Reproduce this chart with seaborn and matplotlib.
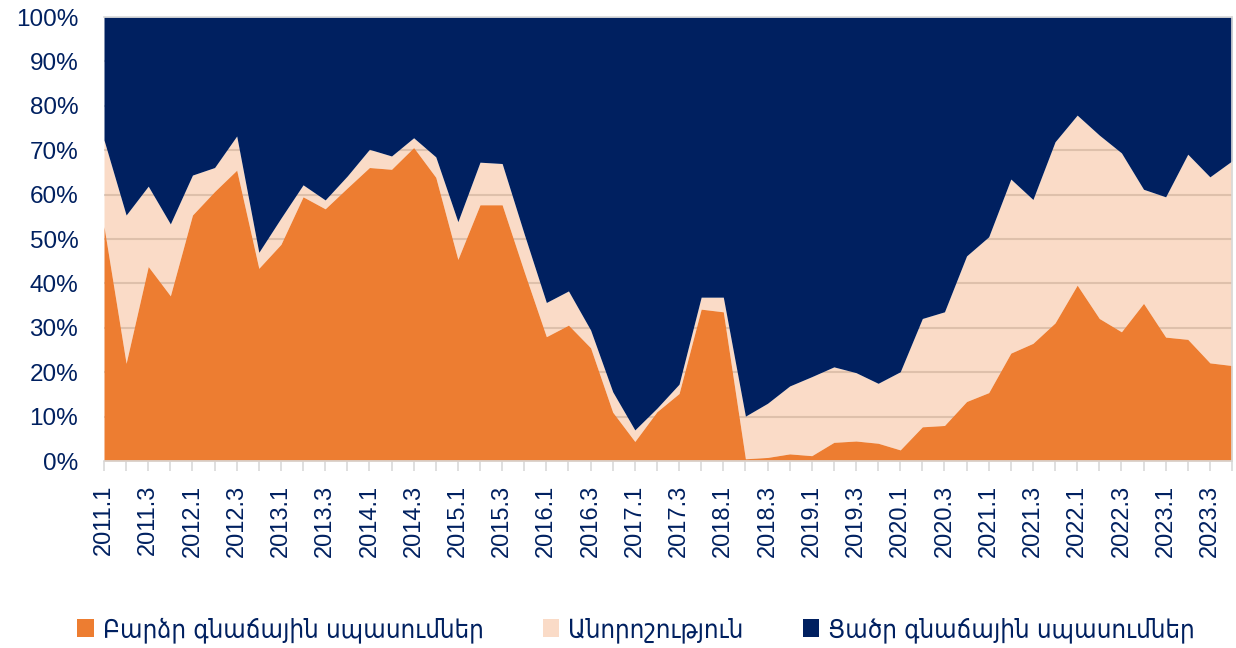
import matplotlib
matplotlib.use("Agg")
import matplotlib.pyplot as plt
from matplotlib.font_manager import FontProperties
import seaborn as sns

# ---------------- data ----------------
years = list(range(2011, 2024))
quarters = [f"{y}.{q}" for y in years for q in (1, 2, 3, 4)]

high = [52.8, 22.0, 43.8, 37.2, 55.4, 60.7, 65.5, 43.4, 48.8, 59.5,
        56.8, 61.5, 66.1, 65.7, 70.6, 63.9, 45.4, 57.7, 57.7, 42.6,
        28.0, 30.6, 25.5, 11.0, 4.4, 11.1, 15.2, 34.2, 33.6, 0.5,
        0.8, 1.6, 1.2, 4.2, 4.5, 4.0, 2.5, 7.7, 8.0, 13.4,
        15.4, 24.3, 26.5, 31.1, 39.6, 32.1, 29.1, 35.5, 27.9, 27.4,
        22.1, 21.5]
uncertain = [19.5, 33.4, 18.1, 16.2, 9.0, 5.4, 7.7, 3.6, 5.9, 2.7,
             2.0, 2.7, 4.1, 3.0, 2.2, 4.6, 8.5, 9.6, 9.3, 8.5,
             7.7, 7.7, 4.0, 4.6, 2.6, 0.8, 2.1, 2.7, 3.3, 9.6,
             12.2, 15.3, 17.8, 17.0, 15.4, 13.5, 17.6, 24.4, 25.6, 32.8,
             35.1, 39.2, 32.4, 40.8, 38.3, 41.3, 40.3, 25.7, 31.6, 41.7,
             41.9, 46.1]
low = [27.7, 44.6, 38.1, 46.6, 35.6, 33.9, 26.8, 53.0, 45.3, 37.8,
       41.2, 35.8, 29.8, 31.3, 27.2, 31.5, 46.1, 32.7, 33.0, 48.9,
       64.3, 61.7, 70.5, 84.4, 93.0, 88.1, 82.7, 63.1, 63.1, 89.9,
       87.0, 83.1, 81.0, 78.8, 80.1, 82.5, 79.9, 67.9, 66.4, 53.8,
       49.5, 36.5, 41.1, 28.1, 22.1, 26.6, 30.6, 38.8, 40.5, 30.9,
       36.0, 32.4]

series_names = ["Բարձր գնաճային սպասումներ", "Անորոշություն", "Ցածր գնաճային սպասումներ"]
y_ticks = [0, 10, 20, 30, 40, 50, 60, 70, 80, 90, 100]
y_tick_labels = [f"{v}%" for v in y_ticks]

# ---------------- style ----------------
sns.set_theme(style="white")
plt.rcParams["font.family"] = ["Liberation Sans", "DejaVu Sans"]

navy = "#002060"
orange = "#ED7D31"
peach = (237/255, 125/255, 49/255, 0.27)
grid_c = "#D9D9D9"

fig = plt.figure(figsize=(12.36, 6.48), dpi=100)
ax = fig.add_axes([104/1236, 1-461/648, 1128/1236, 444/648])

x = list(range(len(quarters)))
ax.stackplot(x, high, uncertain, low, colors=[orange, peach, navy],
             labels=series_names, linewidth=0)

ax.set_xlim(0, len(quarters) - 1)
ax.set_ylim(0, 100)
ax.set_axisbelow(True)
ax.grid(axis="y", color=grid_c, linewidth=1.5)
ax.grid(axis="x", visible=False)

ax.set_yticks(y_ticks)
ax.set_yticklabels(y_tick_labels)
ax.set_xticks(x)
ax.set_xticklabels([q if i % 2 == 0 else "" for i, q in enumerate(quarters)], rotation=90)

ax.tick_params(axis="y", length=0, pad=18.5, labelsize=17.5, labelcolor=navy)
ax.tick_params(axis="x", length=7, width=1.2, color=grid_c, direction="out",
               pad=10, labelsize=17, labelcolor=navy, bottom=True)

for s in ["top", "right", "bottom"]:
    ax.spines[s].set_color(grid_c)
    ax.spines[s].set_linewidth(1.2)
ax.spines["left"].set_visible(False)

leg_font = FontProperties(family="DejaVu Sans", stretch="condensed", size=18.5)
handles, labels = ax.get_legend_handles_labels()
leg = fig.legend(handles, labels, loc="center", bbox_to_anchor=(636/1236, 1-630/648),
                 ncol=3, frameon=False, prop=leg_font, handlelength=0.65, handleheight=0.65,
                 handletextpad=0.35, columnspacing=2.3, borderaxespad=0)
for t in leg.get_texts():
    t.set_color(navy)

fig.savefig("out.png", dpi=100)
